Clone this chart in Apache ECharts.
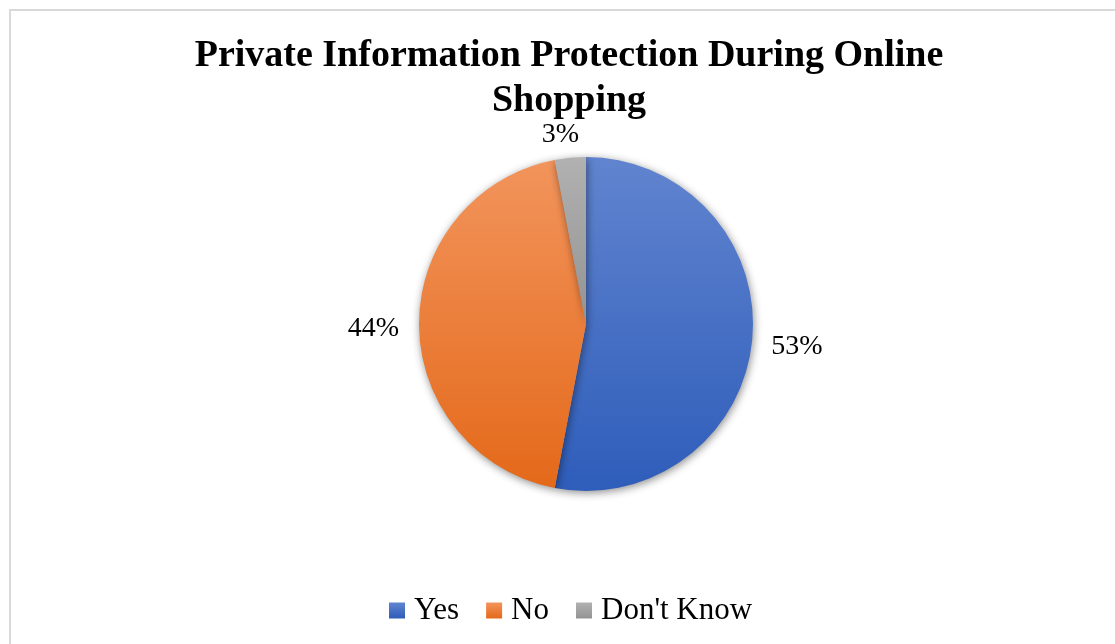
<!DOCTYPE html>
<html>
<head>
<meta charset="utf-8">
<script src="https://cdn.jsdelivr.net/npm/echarts@6/dist/echarts.min.js"></script>
<style>
  html, body { margin: 0; padding: 0; background: #ffffff; }
  #chart { width: 1115px; height: 644px; }
</style>
</head>
<body>
<div id="chart"></div>
<script>
// Survey answers and their shares (percent)
const categories = ['Yes', 'No', "Don't Know"];
const shares = [53, 44, 3];
// Top / bottom colours of each slice's vertical gradient
const topColors = ['#6184cf', '#f2945c', '#b1b1b1'];
const bottomColors = ['#2e5dba', '#e4691a', '#939393'];

const titleText = 'Private Information Protection During Online\nShopping';
const serif = '"Liberation Serif", "Times New Roman", serif';

// Small nudges for the percentage labels around the pie
const labelNudge = [[0, 6], [-1, 5], [15, -9]];

function gradient(i) {
  return {
    type: 'linear', x: 0, y: 0, x2: 0, y2: 1,
    colorStops: [
      { offset: 0, color: topColors[i] },
      { offset: 1, color: bottomColors[i] }
    ]
  };
}

const chart = echarts.init(document.getElementById('chart'), null, { renderer: 'canvas' });

chart.setOption({
  backgroundColor: '#ffffff',
  animation: false,
  title: {
    text: titleText,
    left: 564,
    top: 29,
    textAlign: 'center',
    textStyle: {
      fontFamily: serif,
      fontWeight: 'bold',
      fontSize: 38,
      lineHeight: 45,
      color: '#000000'
    }
  },
  legend: {
    data: categories,
    top: 595,
    left: 389,
    padding: 0,
    icon: 'rect',
    itemWidth: 16,
    itemHeight: 16,
    itemGap: 27,
    textStyle: {
      fontFamily: serif,
      fontSize: 31,
      color: '#000000',
      padding: [0, 0, 0, 4]
    }
  },
  graphic: [{
    type: 'rect',
    shape: { x: 10, y: 10, width: 1200, height: 700 },
    style: { fill: 'none', stroke: '#d9d9d9', lineWidth: 2 },
    silent: true
  }],
  series: [{
    type: 'pie',
    center: [586, 324],
    radius: [0, 167],
    startAngle: 90,
    clockwise: true,
    avoidLabelOverlap: false,
    data: categories.map((name, i) => ({
      name: name,
      value: shares[i],
      itemStyle: { color: gradient(i) }
    })),
    itemStyle: {
      borderWidth: 0,
      shadowBlur: 8,
      shadowColor: 'rgba(0,0,0,0.45)',
      shadowOffsetX: 1,
      shadowOffsetY: 2
    },
    label: {
      show: true,
      position: 'outside',
      formatter: '{d}%',
      fontFamily: serif,
      fontSize: 28,
      color: '#000000'
    },
    labelLine: {
      show: false,
      length: 14,
      length2: 0
    },
    labelLayout: function (params) {
      const n = labelNudge[params.dataIndex];
      return { dx: n[0], dy: n[1] };
    }
  }]
});
</script>
</body>
</html>
